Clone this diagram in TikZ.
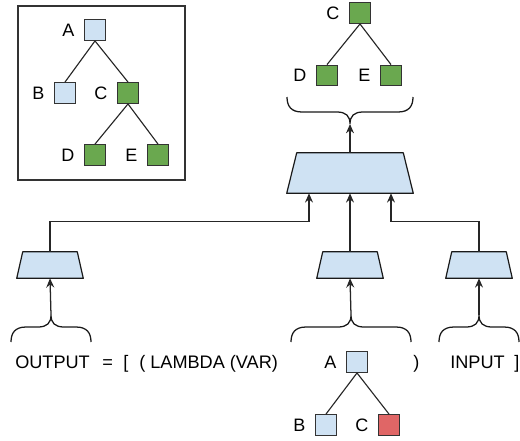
\documentclass[tikz,border=0pt]{standalone}
\usepackage{fontspec}
\setmainfont{Liberation Sans}
\usetikzlibrary{shapes.geometric,arrows.meta,calc}
\definecolor{lblue}{HTML}{CFE2F3}
\definecolor{lgreen}{HTML}{6AA84F}
\definecolor{lred}{HTML}{E06666}
\definecolor{edge}{HTML}{333333}
\newcommand{\trapshape}[2]{%
  \draw[draw=black!90,fill=lblue,line width=0.9pt,line join=round]
    ($(#1.north west)+(#2,0)$) -- ($(#1.north east)+(-#2,0)$) -- (#1.south east) -- (#1.south west) -- cycle;}
\tikzset{
  sq/.style={draw=edge,line width=0.9pt,minimum size=15.5pt,inner sep=0pt},
  bsq/.style={sq,fill=lblue},
  gsq/.style={sq,fill=lgreen},
  rsq/.style={sq,fill=lred},
  lab/.style={label={[label distance=3.8pt,font=\fontsize{13.5}{16}\selectfont]left:#1}},
  tedge/.style={draw=black!85,line width=0.85pt},
  strap/.style={rectangle,minimum width=49.5pt,minimum height=19.5pt,inner sep=0pt},
  btrap/.style={rectangle,minimum width=94.5pt,minimum height=30pt,inner sep=0pt},
  conn/.style={draw=black!85,line width=0.95pt},
  arr/.style={conn,-{Stealth[length=7pt,width=6pt,inset=2.4pt]}},
  txt/.style={font=\fontsize{13.6}{16}\selectfont,inner sep=0pt,anchor=base west},
  pics/ubrace/.style={code={
    \draw[black!90,line width=0.95pt] (-#1,0) .. controls (-#1,-9) and (-#1+4,-15) .. (-#1+15,-15)
      -- (-13,-15) .. controls (-4,-15) and (0,-19) .. (0,-27)
      .. controls (0,-19) and (4,-15) .. (13,-15)
      -- (#1-15,-15) .. controls (#1-4,-15) and (#1,-9) .. (#1,0);
    \coordinate (-tip) at (0,-27);
  }}
}
\begin{document}
\begin{tikzpicture}[x=0.75pt,y=-0.75pt]
\useasboundingbox (0,0) rectangle (520,440);
% inset box
\draw[draw=black!80,line width=0.9pt] (18,6) rectangle (185,180);
\node[bsq,lab=A] (iA) at (95,30) {};
\node[bsq,lab=B] (iB) at (65,93) {};
\node[gsq,lab=C] (iC) at (128,93) {};
\node[gsq,lab=D] (iD) at (95,155) {};
\node[gsq,lab=E] (iE) at (158,155) {};
\draw[tedge] (iA.south) -- (iB.north);
\draw[tedge] (iA.south) -- (iC.north);
\draw[tedge] (iC.south) -- (iD.north);
\draw[tedge] (iC.south) -- (iE.north);
% top-right tree
\node[gsq,lab=C] (oC) at (360,13) {};
\node[gsq,lab=D] (oD) at (327,75.5) {};
\node[gsq,lab=E] (oE) at (391,75.5) {};
\draw[tedge] (oC.south) -- (oD.north);
\draw[tedge] (oC.south) -- (oE.north);
\pic[yscale=-1] (b0) at (350,97) {ubrace=63};
% trapezoids
\node[btrap] (T) at (350,173) {};
\node[strap] (t1) at (50,265) {};
\node[strap] (t2) at (350,265) {};
\node[strap] (t3) at (479,265) {};
\trapshape{T}{10}
\trapshape{t1}{6}
\trapshape{t2}{6}
\trapshape{t3}{6}
\draw[arr] (T.north) -- (b0-tip);
\draw[arr] (t1.north) -- ++(0,-30) -| ($(T.south)+(-41,0)$);
\draw[arr] (t2.north) -- (T.south);
\draw[arr] (t3.north) -- ++(0,-30) -| ($(T.south)+(41,0)$);
% bottom braces
\pic (b1) at (51,342) {ubrace=40};
\pic (b2) at (351,342) {ubrace=60};
\pic (b3) at (479,342) {ubrace=40};
\draw[arr] (b1-tip) -- (t1.south);
\draw[arr] (b2-tip) -- (t2.south);
\draw[arr] (b3-tip) -- (t3.south);
% text row
\node[txt] (w1) at (15,368) {OUTPUT};
\node[txt] (w2) at (102,368) {=};
\node[txt] (w3) at (123,368) {[};
\node[txt] (w4) at (139,368) {( LAMBDA (VAR)};
\node[txt] (w5) at (413,368) {)};
\node[txt] (w6) at (450,368) {INPUT};
\node[txt] (w7) at (514,368) {]};
% bottom tree
\node[bsq,lab=A] (pA) at (357,362) {};
\node[bsq,lab=B] (pB) at (326,425) {};
\node[rsq,lab=C] (pC) at (389,425) {};
\draw[tedge] (pA.south) -- (pB.north);
\draw[tedge] (pA.south) -- (pC.north);
\end{tikzpicture}
\end{document}
